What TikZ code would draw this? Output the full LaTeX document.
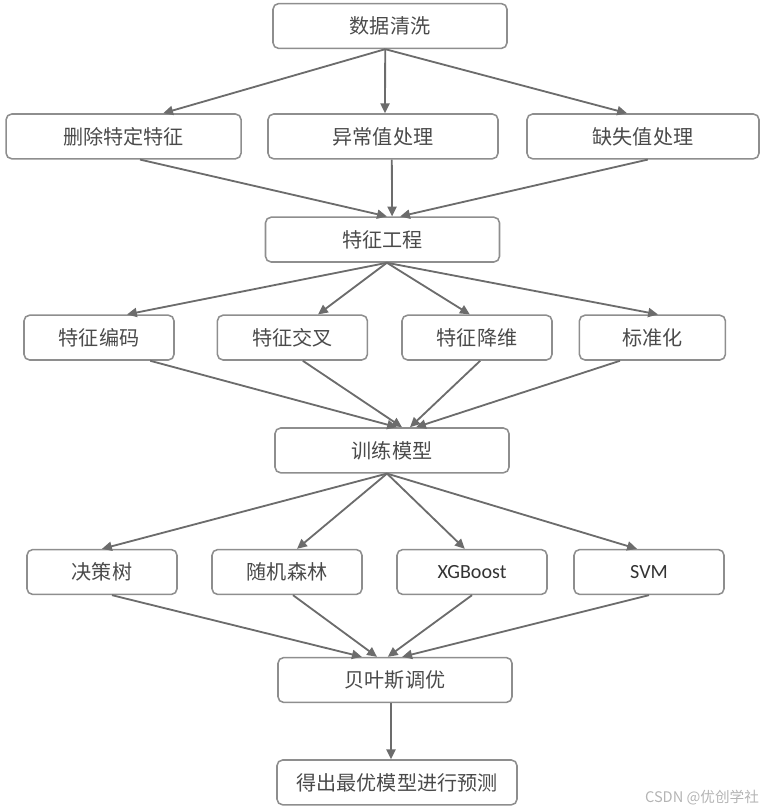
\documentclass[tikz,border=0pt]{standalone}
\usepackage{fontspec}
\setmainfont{Noto Sans CJK SC}
\newfontfamily\latinfont{Carlito}
\usepackage{tikz}
\usetikzlibrary{arrows.meta}
\usepackage{xcolor}
\definecolor{boxgray}{HTML}{8E8E8E}
\definecolor{arrowgray}{HTML}{6C6C6C}
\definecolor{textgray}{HTML}{4A4A4A}
\definecolor{markgray}{HTML}{B4B4B4}

\begin{document}
\begin{tikzpicture}
\tikzset{box it/.style={draw=boxgray, line width=1.1pt, rounded corners=4pt, minimum height=1.12cm, inner sep=0pt, text=textgray, font=\fontsize{14.3pt}{17pt}\selectfont}}
\tikzset{wide box/.style={box it, minimum width=5.85cm}, small box/.style={box it, minimum width=3.75cm}}

\useasboundingbox (0,0) rectangle (19.125,-20.3);

\node [wide box] (v1) at (9.75,-0.65) {数据清洗};
\node [wide box, minimum width=5.875cm] (v2) at (3.09,-3.41) {删除特定特征};
\node [wide box, minimum width=5.75cm] (v3) at (9.575,-3.41) {异常值处理};
\node [wide box, minimum width=5.8cm] (v4) at (16.075,-3.41) {缺失值处理};
\node [wide box] (v5) at (9.5625,-5.99) {特征工程};
\node [small box] (v6) at (2.475,-8.44) {特征编码};
\node [small box] (v7) at (7.31,-8.44) {特征交叉};
\node [small box] (v8) at (11.925,-8.44) {特征降维};
\node [small box, minimum width=3.65cm] (v9) at (16.31,-8.44) {标准化};
\node [wide box] (v10) at (9.8,-11.26) {训练模型};
\node [small box] (v11) at (2.55,-14.3) {决策树};
\node [small box] (v12) at (7.175,-14.3) {随机森林};
\node [small box, text=black!80] (v13) at (11.8,-14.3) {\latinfont XGBoost};
\node [small box, text=black!80] (v14) at (16.225,-14.3) {\latinfont SVM};
\node [wide box] (v15) at (9.875,-17.0) {贝叶斯调优};
\node [wide box, minimum width=6cm] (v16) at (9.925,-19.56) {得出最优模型进行预测};
\node [text=markgray, font=\fontsize{10.4pt}{12pt}\selectfont, inner sep=0pt] (v17) at (17.55,-19.95) {CSDN @优创学社};

\tikzstyle{myedgestyle} = [-{Triangle[length=7pt,width=6.5pt]}, draw=arrowgray, fill=arrowgray, line width=1.3pt]

\draw [myedgestyle] ([xshift=-0.12cm]v1.south) -- ([xshift=0.99cm]v2.north);
\draw [myedgestyle] ([xshift=-0.12cm]v1.south) -- ([xshift=0.05cm]v3.north);
\draw [myedgestyle] ([xshift=-0.12cm]v1.south) -- ([xshift=-0.4cm]v4.north);

\draw [myedgestyle] ([xshift=0.41cm]v2.south) -- ([xshift=0.11cm]v5.north);
\draw [myedgestyle] ([xshift=0.22cm]v3.south) -- ([xshift=0.24cm]v5.north);
\draw [myedgestyle] ([xshift=0.12cm]v4.south) -- ([xshift=0.44cm]v5.north);

\draw [myedgestyle] ([xshift=0.11cm]v5.south) -- ([xshift=0.7cm]v6.north);
\draw [myedgestyle] ([xshift=0.11cm]v5.south) -- ([xshift=0.64cm]v7.north);
\draw [myedgestyle] ([xshift=0.11cm]v5.south) -- ([xshift=-0.18cm]v8.north);
\draw [myedgestyle] ([xshift=0.11cm]v5.south) -- ([xshift=0.14cm]v9.north);

\draw [myedgestyle] ([xshift=1.28cm]v6.south) -- ([xshift=0.125cm]v10.north);
\draw [myedgestyle] ([xshift=0.26cm]v7.south) -- ([xshift=0.25cm]v10.north);
\draw [myedgestyle] ([xshift=0.08cm]v8.south) -- ([xshift=0.45cm]v10.north);
\draw [myedgestyle] ([xshift=-0.81cm]v9.south) -- ([xshift=0.6cm]v10.north);

\draw [myedgestyle] ([xshift=-0.125cm]v10.south) -- (v11.north);
\draw [myedgestyle] ([xshift=-0.125cm]v10.south) -- ([xshift=0.25cm]v12.north);
\draw [myedgestyle] ([xshift=-0.125cm]v10.south) -- ([xshift=-0.18cm]v13.north);
\draw [myedgestyle] ([xshift=-0.125cm]v10.south) -- ([xshift=-0.3cm]v14.north);

\draw [myedgestyle] ([xshift=0.25cm]v11.south) -- ([xshift=-0.83cm]v15.north);
\draw [myedgestyle] ([xshift=0.15cm]v12.south) -- ([xshift=-0.45cm]v15.north);
\draw [myedgestyle] (v13.south) -- ([xshift=-0.18cm]v15.north);
\draw [myedgestyle] (v14.south) -- ([xshift=0.18cm]v15.north);

\draw [myedgestyle] ([xshift=-0.1cm]v15.south) -- ([xshift=-0.15cm]v16.north);
\end{tikzpicture}
\end{document}
